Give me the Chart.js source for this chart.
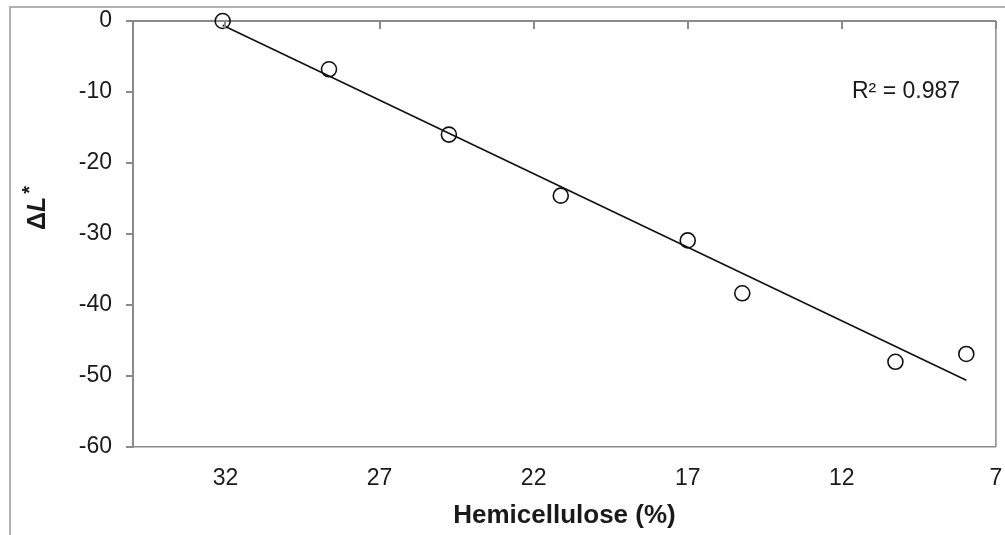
<!DOCTYPE html>
<html lang="en">
<head>
  <meta charset="UTF-8" />
  <title>Hemicellulose vs ΔL*</title>
  <script src="https://cdn.jsdelivr.net/npm/chart.js"></script>
  <style>
    body { margin: 0; background: #fff; }
    #wrap { position: relative; width: 1005px; height: 535px; }
  </style>
</head>
<body>
  <div id="wrap"><canvas id="chart"></canvas></div>
  <script>
    // values
    const hemicellulose = [32.09, 28.64, 24.75, 21.12, 17.0, 15.23, 10.26, 7.96];
    const deltaL = [0, -6.8, -16.0, -24.6, -30.9, -38.35, -48.0, -46.9];
    // trend line end points as drawn
    const trendX = [32.09, 7.96];
    const trendY = [-0.6, -50.6];
    const xTicks = [32, 27, 22, 17, 12, 7];
    const rSquared = "R² = 0.987";

    const gray = "#8a8a8a";
    const font = "'Liberation Sans', Arial, sans-serif";

    const extras = {
      id: "extras",
      afterDraw(chart) {
        const ctx = chart.ctx;
        const area = chart.chartArea;
        const x = chart.scales.x;
        const y = chart.scales.y;
        const y0 = y.getPixelForValue(0);
        ctx.save();
        // outer frame (left and top only)
        ctx.strokeStyle = "#b0b0b0";
        ctx.lineWidth = 2;
        ctx.beginPath();
        ctx.moveTo(10, 535);
        ctx.lineTo(10, 7);
        ctx.lineTo(1005, 7);
        ctx.stroke();
        // right border of plot
        ctx.strokeStyle = gray;
        ctx.lineWidth = 1.5;
        ctx.beginPath();
        ctx.moveTo(area.right, area.top);
        ctx.lineTo(area.right, area.bottom);
        ctx.stroke();
        // x ticks hang down from the zero line
        ctx.lineWidth = 2;
        xTicks.forEach(v => {
          const px = Math.round(x.getPixelForValue(v));
          ctx.beginPath();
          ctx.moveTo(px, y0);
          ctx.lineTo(px, y0 + 8);
          ctx.stroke();
        });
        // R² label
        ctx.fillStyle = "#1a1a1a";
        ctx.font = "23px " + font;
        ctx.textBaseline = "alphabetic";
        ctx.fillText(rSquared, 852, 98);
        // y title: ΔL* with italic L
        ctx.translate(45, 208);
        ctx.rotate(-Math.PI / 2);
        const parts = [
          { t: "Δ", f: "bold 25px " + font, dy: 0 },
          { t: "L", f: "italic bold 25px " + font, dy: 0 },
          { t: "*", f: "bold 20px " + font, dy: -9 }
        ];
        let total = 0;
        parts.forEach(p => { ctx.font = p.f; p.w = ctx.measureText(p.t).width; total += p.w + (p.t === "*" ? 3 : 0); });
        let cx = -total / 2;
        parts.forEach(p => {
          ctx.font = p.f;
          if (p.t === "*") cx += 3;
          ctx.fillText(p.t, cx, p.dy);
          cx += p.w;
        });
        ctx.restore();
      }
    };

    new Chart(document.getElementById("chart"), {
      type: "scatter",
      data: {
        datasets: [
          {
            label: "ΔL*",
            data: hemicellulose.map((h, i) => ({ x: h, y: deltaL[i] })),
            pointStyle: "circle",
            pointRadius: 7.5,
            pointHoverRadius: 7.5,
            pointBorderWidth: 1.6,
            pointBorderColor: "#111",
            pointBackgroundColor: "rgba(255,255,255,0)",
            clip: false,
            order: 1
          },
          {
            label: "trend",
            type: "line",
            data: trendX.map((h, i) => ({ x: h, y: trendY[i] })),
            borderColor: "#111",
            borderWidth: 1.6,
            pointRadius: 0,
            fill: false,
            order: 2
          }
        ]
      },
      options: {
        responsive: true,
        maintainAspectRatio: false,
        animation: false,
        layout: { padding: { left: 0, top: 21, right: 9, bottom: 0 } },
        plugins: {
          legend: { display: false },
          tooltip: { enabled: false }
        },
        scales: {
          x: {
            type: "linear",
            reverse: true,
            min: 7,
            max: 35,
            afterBuildTicks: s => { s.ticks = xTicks.map(v => ({ value: v })); },
            afterFit: s => { s.height = 88; s.paddingLeft = 0; s.paddingRight = 0; },
            grid: { display: false },
            border: { display: true, color: gray, width: 1.5 },
            ticks: {
              color: "#1a1a1a",
              font: { family: font, size: 23 },
              padding: 10,
              maxRotation: 0
            },
            title: {
              display: true,
              text: "Hemicellulose (%)",
              color: "#1a1a1a",
              font: { family: font, size: 26, weight: "bold" },
              padding: { top: 0, bottom: 4 }
            }
          },
          y: {
            min: -60,
            max: 0,
            afterFit: s => { s.width = 133; s.paddingTop = 0; s.paddingBottom = 0; },
            grid: {
              color: c => (c.tick && c.tick.value === 0 ? gray : "rgba(0,0,0,0)"),
              lineWidth: 2,
              tickColor: gray,
              tickWidth: 2,
              tickLength: 7
            },
            border: { display: true, color: gray, width: 2 },
            ticks: {
              stepSize: 10,
              color: "#1a1a1a",
              font: { family: font, size: 23 },
              padding: 14
            }
          }
        }
      },
      plugins: [extras]
    });
  </script>
</body>
</html>
